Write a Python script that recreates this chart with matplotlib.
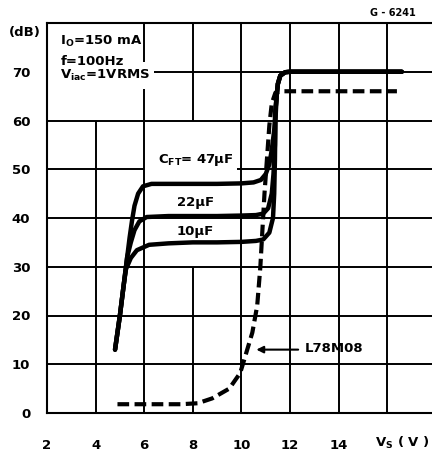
"""
Ripple rejection vs supply voltage (datasheet curve G-6241).
Redrawn from the printed chart with matplotlib.
"""

import matplotlib
matplotlib.use("Agg")  # headless
import matplotlib.pyplot as plt

# --- values --------------------------------------------------------------
x_ticks = [2, 4, 6, 8, 10, 12, 14]   # 16 has the axis caption instead
y_ticks = [0, 10, 20, 30, 40, 50, 60, 70]

# C_FT = 47 uF
x_47 = [4.8, 5.0, 5.15, 5.3, 5.4, 5.5, 5.6, 5.75, 5.95, 6.3, 7.0, 8.0, 9.0, 10.0,
        10.5, 10.8, 11.0, 11.15, 11.25, 11.35, 11.4, 11.45, 11.5, 11.6, 11.8, 12.0,
        14.0, 16.6]
y_47 = [13, 20, 26, 32, 36, 39.5, 42.5, 45, 46.5, 47, 47, 47, 47, 47.1,
        47.3, 47.8, 49, 51, 54, 58, 62, 65, 67.5, 69.2, 69.9, 70,
        70, 70]

# C_FT = 22 uF
x_22 = [4.8, 5.0, 5.15, 5.3, 5.45, 5.6, 5.8, 6.1, 7.0, 8.0, 9.0, 10.0, 10.6,
        10.9, 11.1, 11.25, 11.32, 11.38, 11.4, 11.45, 11.5, 11.6, 11.8, 12.0,
        14.0, 16.6]
y_22 = [13, 20, 26, 32, 35, 37.5, 39.3, 40.2, 40.4, 40.4, 40.4, 40.5, 40.6,
        40.9, 42, 45, 49, 55, 62, 65, 67.5, 69.2, 69.9, 70,
        70, 70]

# C_FT = 10 uF
x_10 = [4.8, 5.0, 5.15, 5.25, 5.45, 5.7, 6.2, 7.0, 8.0, 9.0, 10.0, 10.6,
        10.9, 11.15, 11.3, 11.35, 11.38, 11.4, 11.45, 11.5, 11.6, 11.8, 12.0,
        14.0, 16.6]
y_10 = [13, 20, 26, 29.5, 31.8, 33.4, 34.5, 34.8, 35, 35, 35.1, 35.3,
        35.6, 37, 40, 45, 52, 60, 65, 67.5, 69.2, 69.9, 70,
        70, 70]

# L78M08 (dashed)
x_l78 = [4.9, 6.0, 7.0, 7.5, 8.2, 8.8, 9.5, 9.95, 10.15, 10.45, 10.65, 10.78,
         10.87, 10.95, 11.05, 11.15, 11.25, 11.4, 11.7, 16.4]
y_l78 = [1.8, 1.8, 1.8, 1.8, 2.0, 3.0, 5.0, 8.2, 11.5, 16.5, 22, 30,
         38, 45, 52, 59, 63.5, 65.7, 66, 66]

X_MAX = 2 + 385 / 24.3   # plot runs off the right edge of the page


def draw_grid(ax):
    """Grid as printed: some segments are left out around the labels."""
    kw = dict(color="black", lw=1.4, zorder=1)
    ax.vlines(4, 0, 60, **kw)
    ax.vlines([6, 6], [0, 72], [66.5, 80], **kw)
    ax.vlines([8, 8], [0, 60], [30, 80], **kw)
    for x in (10, 12, 14, 16):
        ax.vlines(x, 0, 80, **kw)
    for y in (10, 20, 30, 40, 60):
        ax.hlines(y, 2, X_MAX, **kw)
    ax.hlines([50, 50], [2, 9.8], [6.0, X_MAX], **kw)
    ax.hlines(70, 6.4, X_MAX, **kw)


def main():
    plt.rcParams["font.family"] = "DejaVu Sans"
    plt.rcParams["font.weight"] = "bold"
    plt.rcParams["mathtext.default"] = "bf"

    fig = plt.figure(figsize=(4.32, 4.54), dpi=100)
    ax = fig.add_axes([47 / 432, 41 / 454, 385 / 432, 390 / 454])
    ax.set_xlim(2, X_MAX)
    ax.set_ylim(0, 80)

    for side in ("left", "top", "bottom"):
        ax.spines[side].set_linewidth(1.5)
    ax.spines["right"].set_visible(False)

    draw_grid(ax)

    curve_kw = dict(color="black", lw=3.2, solid_capstyle="round",
                    solid_joinstyle="round", zorder=3)
    ax.plot(x_47, y_47, **curve_kw)
    ax.plot(x_22, y_22, **curve_kw)
    ax.plot(x_10, y_10, **curve_kw)
    ax.plot(x_l78, y_l78, color="black", lw=3.0, linestyle=(0, (2.8, 1.3)),
            zorder=2)

    ax.set_xticks(x_ticks)
    ax.set_xticklabels([str(v) for v in x_ticks])
    ax.set_yticks(y_ticks)
    ax.set_yticklabels([str(v) for v in y_ticks])
    ax.tick_params(axis="both", length=0, labelsize=9.5)
    ax.tick_params(axis="x", pad=19)
    ax.tick_params(axis="y", pad=12)

    # axis captions
    ax.text(-0.098, 0.975, "(dB)", transform=ax.transAxes, fontsize=9.5,
            ha="left", va="center")
    ax.text(17.75, -0.077, "V$_S$ ( V )", transform=ax.get_xaxis_transform(),
            fontsize=9.5, ha="right", va="center")
    fig.text(370 / 432, 1 - 13 / 454, "G - 6241", fontsize=7,
             ha="left", va="center")

    # test conditions
    ax.text(2.55, 76.3, "I$_O$=150 mA", fontsize=9.5, va="center")
    ax.text(2.55, 72.2, "f=100Hz", fontsize=9.5, va="center")
    ax.text(2.55, 69.3, "V$_{iac}$=1VRMS", fontsize=9.5, va="center")

    # curve labels
    ax.text(6.55, 51.8, "C$_{FT}$= 47µF", fontsize=9.5, va="center")
    ax.text(8.1, 43.2, "22µF", fontsize=9.5, ha="center", va="center")
    ax.text(8.1, 37.3, "10µF", fontsize=9.5, ha="center", va="center")

    ax.annotate("", xy=(10.5, 13), xytext=(12.45, 13),
                arrowprops=dict(arrowstyle="-|>", color="black", lw=1.5,
                                mutation_scale=10))
    ax.text(12.6, 13.3, "L78M08", fontsize=9.5, va="center")

    fig.savefig("out.png", dpi=100)
    plt.close(fig)


if __name__ == "__main__":
    main()
